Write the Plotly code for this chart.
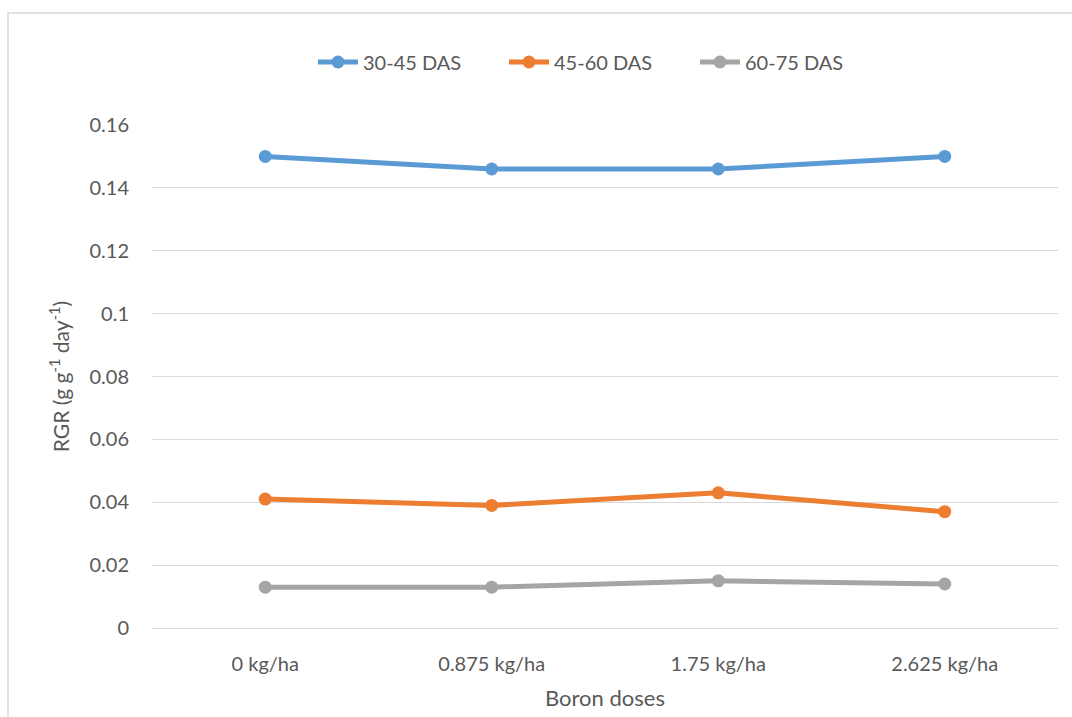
import plotly.graph_objects as go

# Boron dose treatments and relative growth rate per growth interval
doses = ["0 kg/ha", "0.875 kg/ha", "1.75 kg/ha", "2.625 kg/ha"]
rgr_30_45 = [0.150, 0.146, 0.146, 0.150]
rgr_45_60 = [0.041, 0.039, 0.043, 0.037]
rgr_60_75 = [0.013, 0.013, 0.015, 0.014]
y_ticks = [0, 0.02, 0.04, 0.06, 0.08, 0.1, 0.12, 0.14, 0.16]
y_tick_text = ["0", "0.02", "0.04", "0.06", "0.08", "0.1", "0.12", "0.14", "0.16"]

series = [
    ("30-45 DAS", rgr_30_45, "#5B9BD5"),
    ("45-60 DAS", rgr_45_60, "#ED7D31"),
    ("60-75 DAS", rgr_60_75, "#A5A5A5"),
]

FONT = "Lato, 'Open Sans', sans-serif"
TEXT = "#595959"

fig = go.Figure()
for name, vals, color in series:
    fig.add_trace(go.Scatter(
        x=doses, y=vals, name=name, mode="lines+markers",
        line=dict(color=color, width=5),
        marker=dict(color=color, size=13),
    ))

W, H = 1072, 717
L, R, T, B = 152, 14, 125, 89
pw, ph = W - L - R, H - T - B

def px_x(p):
    return (p - L) / pw

def px_y(p):
    return (H - B - p) / ph

fig.update_layout(
    width=W, height=H,
    margin=dict(l=L, r=R, t=T, b=B),
    paper_bgcolor="white", plot_bgcolor="white",
    font=dict(family=FONT, size=20, color=TEXT),
    showlegend=True,
    legend=dict(
        orientation="h", x=px_x(313), xanchor="left", y=px_y(62), yanchor="middle",
        font=dict(family=FONT, size=20, color=TEXT),
        itemwidth=40, tracegroupgap=0,
        entrywidth=136, entrywidthmode="pixels",
    ),
    xaxis=dict(
        type="category", range=[-0.5, 3.5],
        showgrid=False, showline=False, zeroline=False,
        ticks="", ticklabelstandoff=22,
        tickfont=dict(family=FONT, size=20, color=TEXT),
        title=dict(text="Boron doses", font=dict(family=FONT, size=22, color=TEXT), standoff=16),
    ),
    yaxis=dict(
        range=[0, 0.16], tickvals=y_ticks, ticktext=y_tick_text,
        showgrid=True, gridcolor="#D9D9D9", gridwidth=1.3,
        zeroline=True, zerolinecolor="#D9D9D9", zerolinewidth=1.3,
        showline=False, ticks="", ticklabelstandoff=22,
        tickfont=dict(family=FONT, size=20, color=TEXT),
        title=dict(text="RGR (g g<sup>-1</sup> day<sup>-1</sup>)",
                   font=dict(family=FONT, size=21, color=TEXT), standoff=14),
    ),
    shapes=[
        dict(type="rect", xref="paper", yref="paper",
             x0=px_x(8), x1=px_x(1080), y0=px_y(730), y1=px_y(13),
             line=dict(color="#D9D9D9", width=1.5), fillcolor="rgba(0,0,0,0)", layer="below"),
    ],
)

fig.write_html("out.html")
